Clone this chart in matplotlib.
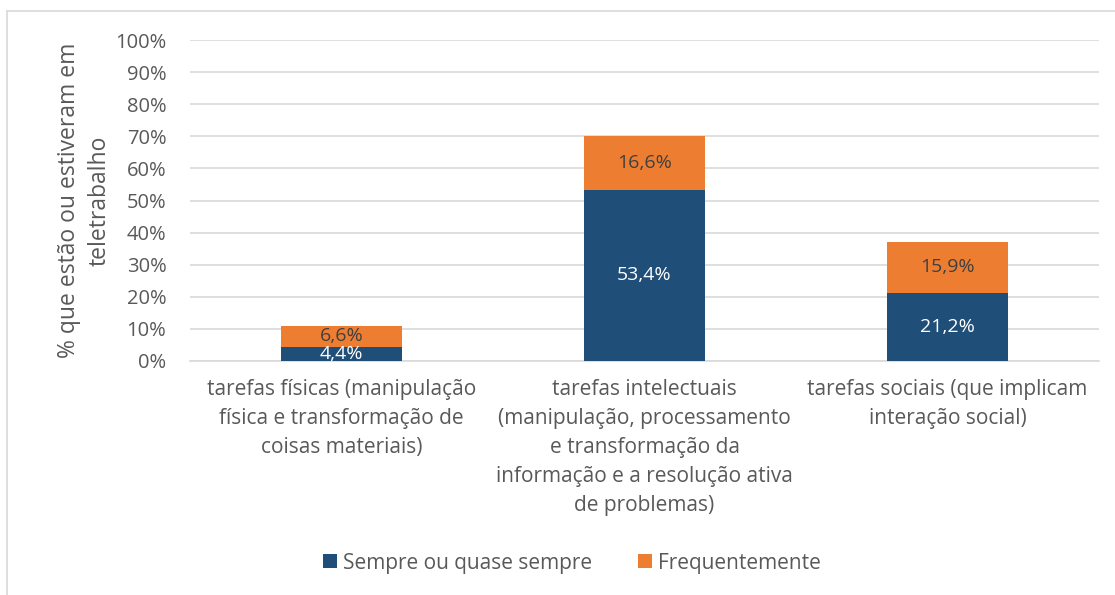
import matplotlib.pyplot as plt
import numpy as np

categorias = [
    "tarefas físicas (manipulação\nfísica e transformação de\ncoisas materiais)",
    "tarefas intelectuais\n(manipulação, processamento\ne transformação da\ninformação e a resolução ativa\nde problemas)",
    "tarefas sociais (que implicam\ninteração social)",
]
sempre = [4.4, 53.4, 21.2]
frequente = [6.6, 16.6, 15.9]
series = ["Sempre ou quase sempre", "Frequentemente"]

azul = "#1F4E79"
laranja = "#ED7D31"
cinza = "#595959"

plt.rcParams["font.family"] = ["Open Sans", "DejaVu Sans"]

fig = plt.figure(figsize=(11.15, 5.95), dpi=100)
ax = fig.add_axes([190 / 1115, 1 - 361 / 595, (1099 - 190) / 1115, (361 - 40) / 595])

x = np.arange(len(categorias))
b1 = ax.bar(x, sempre, width=0.4, color=azul, label=series[0], zorder=3)
b2 = ax.bar(x, frequente, width=0.4, bottom=sempre, color=laranja, label=series[1], zorder=3)

for rect, v in zip(b1, sempre):
    ax.text(rect.get_x() + rect.get_width() / 2, rect.get_y() + rect.get_height() / 2,
            f"{v:.1f}%".replace(".", ","), ha="center", va="center",
            color="white", fontsize=14, zorder=4, clip_on=True)
for rect, v in zip(b2, frequente):
    ax.text(rect.get_x() + rect.get_width() / 2, rect.get_y() + rect.get_height() / 2,
            f"{v:.1f}%".replace(".", ","), ha="center", va="center",
            color="#404040", fontsize=14, zorder=4)

ax.set_xlim(-0.5, 2.5)
ax.set_ylim(0, 100)
ax.set_yticks(np.arange(0, 101, 10))
ax.set_yticklabels([f"{t}%" for t in range(0, 101, 10)])
ax.set_xticks(x)
ax.set_xticklabels(categorias, linespacing=1.5)
ax.tick_params(axis="both", length=0, colors=cinza, labelsize=14.5)
ax.tick_params(axis="x", labelsize=15, pad=13)
ax.tick_params(axis="y", pad=17)
ax.grid(axis="y", color="#D9D9D9", linewidth=1.2, zorder=0)
for s in ax.spines.values():
    s.set_visible(False)
ax.spines["bottom"].set_visible(True)
ax.spines["bottom"].set_color("#D9D9D9")
ax.spines["bottom"].set_linewidth(1.2)

ax.set_ylabel("% que estão ou estiveram em\nteletrabalho", color=cinza, fontsize=16.5,
              linespacing=1.4)
ax.yaxis.set_label_coords(-0.086, 0.5)

fig.legend(handles=[b1, b2], labels=series, loc="center", bbox_to_anchor=(572 / 1115, 1 - 563 / 595),
           ncol=2, frameon=False, fontsize=15, labelcolor=cinza, handlelength=0.65,
           handleheight=0.65, handletextpad=0.3, columnspacing=2.2)

# moldura do gráfico
fig.add_artist(plt.Line2D([7 / 1115, 7 / 1115], [0, 1 - 11 / 595], color="#D9D9D9", lw=1.2))
fig.add_artist(plt.Line2D([7 / 1115, 1], [1 - 11 / 595, 1 - 11 / 595], color="#D9D9D9", lw=1.2))

fig.savefig("out.png", dpi=100)
